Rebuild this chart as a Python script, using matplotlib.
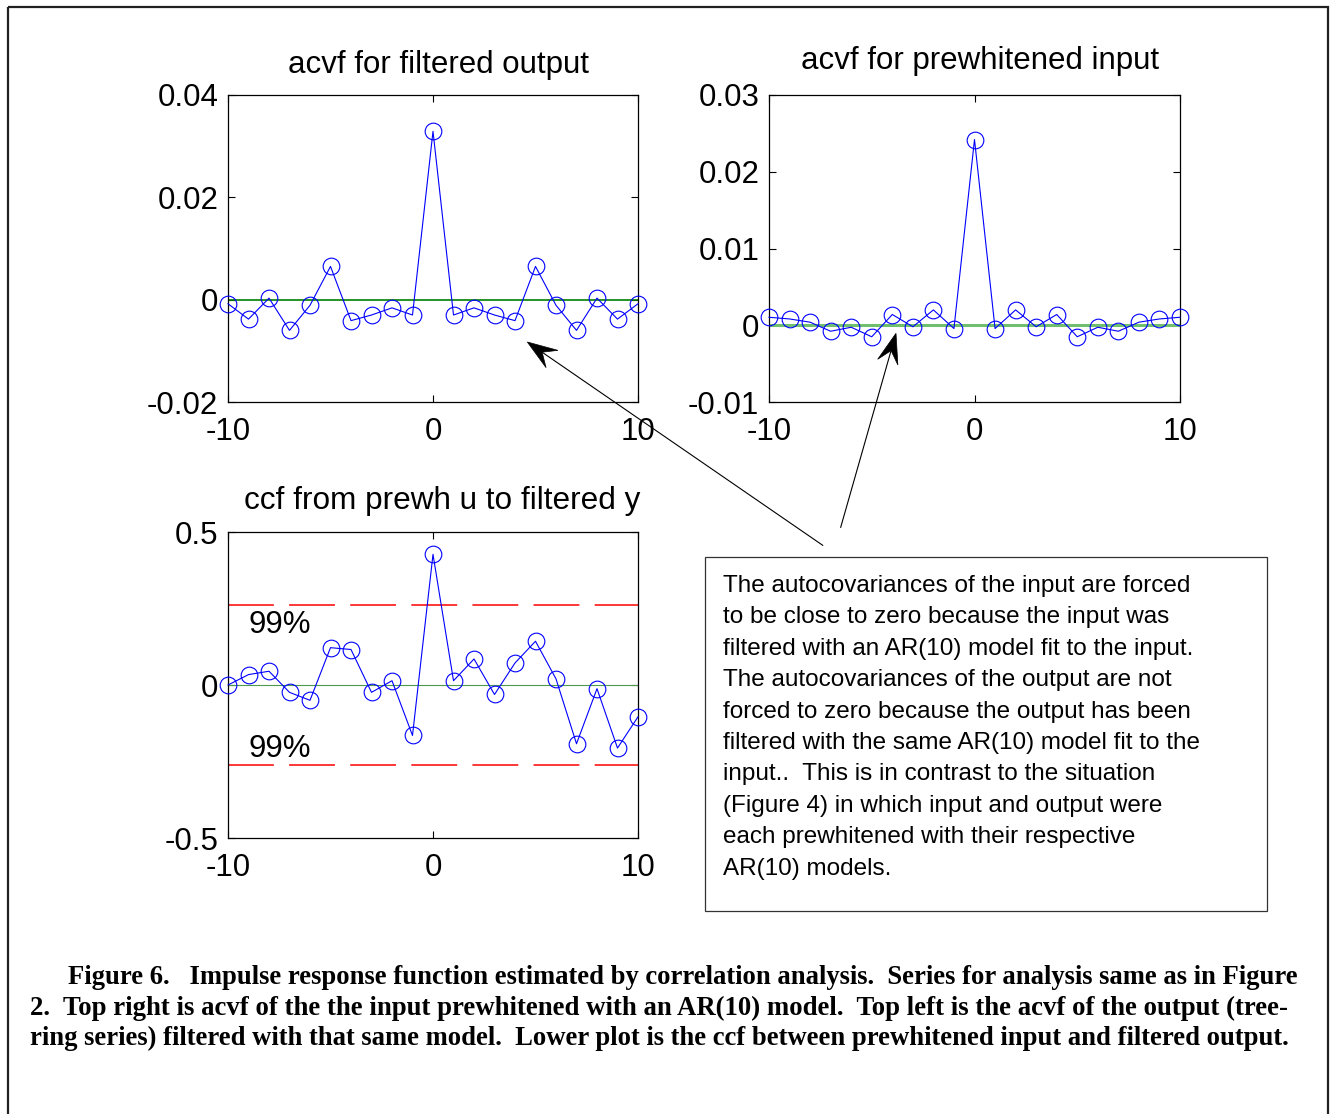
import matplotlib
matplotlib.use('Agg')
import matplotlib.pyplot as plt
import numpy as np
from matplotlib.patches import Rectangle, Polygon
from matplotlib.lines import Line2D

# ---------------- data ----------------
lags = list(range(-10, 11))
acvf_output = [-0.0008, -0.0038, 0.0003, -0.0060, -0.0011, 0.0065, -0.0041, -0.0030,
               -0.0016, -0.0030, 0.0329, -0.0030, -0.0016, -0.0030, -0.0041, 0.0065,
               -0.0011, -0.0060, 0.0003, -0.0038, -0.0008]
acvf_input = [0.00104, 0.00082, 0.0004, -0.00078, -0.00026, -0.0015, 0.0014, -0.0002,
              0.0020, -0.00043, 0.0242, -0.00043, 0.0020, -0.0002, 0.0014, -0.0015,
              -0.00026, -0.00078, 0.0004, 0.00082, 0.00104]
ccf_uy = [0.000, 0.034, 0.045, -0.024, -0.050, 0.122, 0.116, -0.024, 0.014, -0.165,
          0.427, 0.014, 0.085, -0.031, 0.072, 0.143, 0.020, -0.192, -0.012, -0.206, -0.104]
conf99 = 0.261
conf_label = "99%"

xticks = [-10, 0, 10]
xticklabels = ["-10", "0", "10"]
yticks_out = [-0.02, 0, 0.02, 0.04]
yticklabels_out = ["-0.02", "0", "0.02", "0.04"]
yticks_in = [-0.01, 0, 0.01, 0.02, 0.03]
yticklabels_in = ["-0.01", "0", "0.01", "0.02", "0.03"]
yticks_ccf = [-0.5, 0, 0.5]
yticklabels_ccf = ["-0.5", "0", "0.5"]

titles = ["acvf for filtered output", "acvf for prewhitened input",
          "ccf from prewh u to filtered y"]

note_lines = [
    "The autocovariances of the input are forced",
    "to be close to zero because the input was",
    "filtered with an AR(10) model fit to the input.",
    "The autocovariances of the output are not",
    "forced to zero because the output has been",
    "filtered with the same AR(10) model fit to the",
    "input..  This is in contrast to the situation",
    "(Figure 4) in which input and output were",
    "each prewhitened with their respective",
    "AR(10) models.",
]

caption_lines = [
    "Figure 6.   Impulse response function estimated by correlation analysis.  Series for analysis same as in Figure",
    "2.  Top right is acvf of the the input prewhitened with an AR(10) model.  Top left is the acvf of the output (tree-",
    "ring series) filtered with that same model.  Lower plot is the ccf between prewhitened input and filtered output.",
]

# ---------------- figure ----------------
plt.rcParams['font.family'] = ['Liberation Sans', 'DejaVu Sans']
plt.rcParams['lines.scale_dashes'] = False
W, H = 1330, 1114
fig = plt.figure(figsize=(W / 100, H / 100), dpi=100)
fig.patch.set_facecolor('white')


def px_axes(x0, y0, x1, y1, **kw):
    return fig.add_axes([x0 / W, 1 - y1 / H, (x1 - x0) / W, (y1 - y0) / H], **kw)


ax1 = px_axes(228, 95, 638, 402)
ax2 = px_axes(769, 95, 1180, 402)
ax3 = px_axes(228, 532, 638, 838)

TICK_FS = 22.5
blue = (0, 0, 1)


def style(ax, yticks, ylabels, ylim):
    ax.set_xlim(-10, 10)
    ax.set_ylim(*ylim)
    ax.set_xticks(xticks)
    ax.set_xticklabels(xticklabels)
    ax.set_yticks(yticks)
    ax.set_yticklabels(ylabels)
    ax.tick_params(direction='in', top=True, right=True, length=5, width=0.8,
                   labelsize=TICK_FS, pad=7, colors='black')
    ax.tick_params(axis='x', pad=10.5)
    for s in ax.spines.values():
        s.set_linewidth(0.9)
        s.set_color('black')


def series(ax, y):
    ax.plot(lags, y, color=blue, lw=0.8, marker='o', ms=12, mfc='none',
            mec=blue, mew=0.8, clip_on=False, zorder=3)


# top-left
ax1.axhline(0, color=(0, 0.5, 0), lw=1.2, zorder=2)
series(ax1, acvf_output)
style(ax1, yticks_out, yticklabels_out, (-0.02, 0.04))

# top-right
ax2.axhline(0, color='#6fbf6f', lw=2.2, zorder=2)
series(ax2, acvf_input)
style(ax2, yticks_in, yticklabels_in, (-0.01, 0.03))

# bottom
ax3.axhline(0, color='#4c9a4c', lw=0.8, zorder=2)
ax3.axhline(conf99, color='#ff0000', lw=1.1, dashes=(33, 11), zorder=2)
ax3.axhline(-conf99, color='#ff0000', lw=1.1, dashes=(33, 11), zorder=2)
series(ax3, ccf_uy)
ax3.text(-9.02, 0.196, conf_label, fontsize=TICK_FS, va='center', ha='left')
ax3.text(-9.02, -0.208, conf_label, fontsize=TICK_FS, va='center', ha='left')
style(ax3, yticks_ccf, yticklabels_ccf, (-0.5, 0.5))

# ---------------- overlay in pixel coordinates ----------------
ov = fig.add_axes([0, 0, 1, 1], zorder=10)
ov.set_xlim(0, W)
ov.set_ylim(H, 0)
ov.axis('off')
ov.patch.set_alpha(0)

renderer = fig.canvas.get_renderer()


def fit(t, target):
    w = t.get_window_extent(renderer).width
    t.set_fontsize(t.get_fontsize() * target / w)
    return t.get_fontsize()


# outer frame
ov.add_patch(Rectangle((8, 7), 1320, 1130, fill=False, lw=1.6, ec='#222222', clip_on=False))
# note box
ov.add_patch(Rectangle((705, 557), 562, 354, fill=False, lw=0.9, ec='#333333'))

# titles
for s, cx, by, tw in [(titles[0], 438, 73, 300), (titles[1], 980.5, 69, 357),
                      (titles[2], 442, 509, 395)]:
    t = ov.text(cx, by, s, ha='center', va='baseline', fontsize=20)
    fit(t, tw)

# note text
t0 = ov.text(723, 592, note_lines[0], ha='left', va='baseline', fontsize=16)
nfs = fit(t0, 469)
for i, s in enumerate(note_lines[1:], start=1):
    ov.text(723, 592 + 31.4 * i, s, ha='left', va='baseline', fontsize=nfs)

# caption
cap_fam = ['Liberation Serif', 'DejaVu Serif']
for s, x0, by, tw in [(caption_lines[0], 68, 984, 1234), (caption_lines[1], 30, 1015, 1259),
                      (caption_lines[2], 30, 1045, 1260)]:
    t = ov.text(x0, by, s, ha='left', va='baseline', fontsize=17, family=cap_fam,
                fontweight='bold')
    fit(t, tw)


# arrows
def arrow(tail, tip, L=30, hw=10.5, notch=18):
    tail = np.array(tail, float)
    tip = np.array(tip, float)
    d = tip - tail
    u = d / np.hypot(*d)
    p = np.array([-u[1], u[0]])
    base = tip - u * L
    nb = tip - u * notch
    ov.add_line(Line2D([tail[0], nb[0]], [tail[1], nb[1]], color='black', lw=0.8))
    ov.add_patch(Polygon([tip, base + p * hw, nb, base - p * hw], closed=True,
                         fc='black', ec='black', lw=0.5))


arrow((822.7, 545.3), (527.3, 342.0))
arrow((840.7, 527.3), (896.0, 333.3))

fig.savefig('out.png', dpi=100)
